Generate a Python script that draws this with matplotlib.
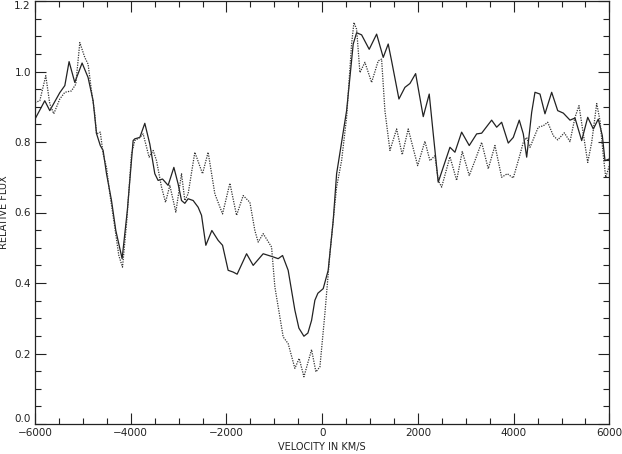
import matplotlib
matplotlib.use("Agg")
import matplotlib.pyplot as plt
from matplotlib.ticker import MultipleLocator, FormatStrFormatter

# Solid spectrum
solid_v = [-6000, -5796, -5691, -5482, -5377, -5288, -5169, -5016, -4891, -4786,
           -4715, -4636, -4577, -4506, -4402, -4312, -4180, -4071, -3950, -3915,
           -3810, -3706, -3601, -3497, -3428, -3336, -3219, -3099, -3010, -2939,
           -2870, -2801, -2696, -2592, -2521, -2431, -2305, -2174, -2082, -1965,
           -1860, -1777, -1580, -1442, -1233, -1024, -920, -828, -711, -571,
           -487, -382, -299, -222, -153, -90, 21, 125, 230, 301,
           510, 648, 719, 823, 982, 1137, 1275, 1379, 1450, 1603,
           1728, 1833, 1952, 2111, 2236, 2320, 2424, 2669, 2773, 2913,
           3072, 3227, 3331, 3540, 3645, 3749, 3887, 3992, 4117, 4201,
           4272, 4376, 4445, 4550, 4654, 4794, 4920, 5037, 5177, 5281,
           5421, 5547, 5664, 5768, 5852, 5908, 6000]
solid_f = [0.865, 0.917, 0.889, 0.940, 0.960, 1.028, 0.969, 1.024, 0.983, 0.917,
           0.824, 0.790, 0.776, 0.710, 0.634, 0.549, 0.469, 0.606, 0.804, 0.809,
           0.813, 0.853, 0.794, 0.710, 0.691, 0.695, 0.677, 0.728, 0.681, 0.634,
           0.626, 0.639, 0.634, 0.615, 0.592, 0.507, 0.549, 0.521, 0.507, 0.436,
           0.431, 0.425, 0.483, 0.450, 0.483, 0.474, 0.469, 0.478, 0.436, 0.323,
           0.272, 0.249, 0.258, 0.294, 0.351, 0.371, 0.384, 0.436, 0.577, 0.710,
           0.889, 1.078, 1.110, 1.104, 1.063, 1.106, 1.040, 1.078, 1.030, 0.922,
           0.955, 0.966, 0.994, 0.872, 0.936, 0.823, 0.686, 0.785, 0.771, 0.828,
           0.790, 0.823, 0.825, 0.862, 0.842, 0.856, 0.797, 0.813, 0.862, 0.823,
           0.757, 0.884, 0.941, 0.936, 0.880, 0.941, 0.889, 0.882, 0.862, 0.868,
           0.804, 0.870, 0.837, 0.865, 0.818, 0.747, 0.752]

# Dotted spectrum
dot_v = [-6000, -5900, -5775, -5691, -5608, -5482, -5377, -5238, -5148, -5064,
         -4960, -4891, -4820, -4751, -4715, -4636, -4577, -4506, -4437, -4333,
         -4249, -4172, -4082, -3984, -3915, -3810, -3741, -3616, -3532, -3461,
         -3357, -3273, -3183, -3058, -2939, -2870, -2801, -2661, -2500, -2383,
         -2243, -2082, -1929, -1789, -1651, -1511, -1407, -1338, -1233, -1058,
         -989, -815, -711, -571, -481, -382, -222, -132, -48, 56,
         161, 230, 301, 405, 510, 614, 663, 719, 788, 892,
         1032, 1170, 1241, 1310, 1415, 1555, 1672, 1797, 1994, 2146,
         2251, 2355, 2424, 2495, 2669, 2809, 2926, 3072, 3191, 3331,
         3469, 3609, 3749, 3867, 3992, 4117, 4201, 4272, 4341, 4514,
         4619, 4711, 4828, 4920, 5058, 5177, 5281, 5365, 5455, 5547,
         5630, 5735, 5804, 5873, 5923, 6000]
dot_f = [0.912, 0.917, 0.988, 0.908, 0.880, 0.922, 0.941, 0.945, 0.964, 1.082,
         1.040, 1.021, 0.945, 0.880, 0.823, 0.828, 0.766, 0.728, 0.653, 0.558,
         0.478, 0.445, 0.577, 0.766, 0.804, 0.813, 0.823, 0.757, 0.776, 0.747,
         0.672, 0.629, 0.677, 0.601, 0.710, 0.634, 0.653, 0.771, 0.710, 0.771,
         0.653, 0.596, 0.683, 0.592, 0.648, 0.629, 0.549, 0.516, 0.540, 0.502,
         0.389, 0.247, 0.228, 0.158, 0.186, 0.134, 0.211, 0.148, 0.162, 0.313,
         0.483, 0.577, 0.672, 0.747, 0.870, 1.078, 1.139, 1.120, 0.997, 1.026,
         0.969, 1.030, 1.035, 0.889, 0.776, 0.837, 0.764, 0.837, 0.733, 0.802,
         0.747, 0.761, 0.691, 0.672, 0.758, 0.691, 0.773, 0.705, 0.747, 0.799,
         0.724, 0.790, 0.700, 0.710, 0.698, 0.757, 0.799, 0.813, 0.785, 0.842,
         0.846, 0.856, 0.818, 0.806, 0.826, 0.801, 0.870, 0.903, 0.823, 0.742,
         0.799, 0.909, 0.860, 0.761, 0.700, 0.733]

x_ticks = [-6000, -4000, -2000, 0, 2000, 4000, 6000]
y_ticks = [0.0, 0.2, 0.4, 0.6, 0.8, 1.0, 1.2]

fig = plt.figure(figsize=(6.22, 4.54), dpi=100)
ax = fig.add_axes([35/622, 30/454, (609.4-35)/622, 423/454])

ax.plot(solid_v, solid_f, color="#222222", lw=0.9, ls="-")
ax.plot(dot_v, dot_f, color="#333333", lw=0.9, ls=(0, (1, 1)))

ax.set_xlim(-6000, 6000)
ax.set_ylim(0.0, 1.2)
ax.set_xticks(x_ticks)
ax.set_yticks(y_ticks)
ax.xaxis.set_minor_locator(MultipleLocator(500))
ax.yaxis.set_minor_locator(MultipleLocator(0.05))
ax.yaxis.set_major_formatter(FormatStrFormatter("%.1f"))
ax.tick_params(which="both", direction="in", top=True, right=True,
               labelsize=7.5, width=0.8, colors="#222222", pad=3)
ax.tick_params(which="major", length=8)
ax.tick_params(which="minor", length=4)
for s in ax.spines.values():
    s.set_linewidth(0.9)
    s.set_color("#222222")

# keep the extreme y labels inside the frame, as in the reference
ylabels = ax.get_yticklabels()
ylabels[0].set_verticalalignment("bottom")
ylabels[-1].set_verticalalignment("top")

ax.set_xlabel("VELOCITY IN KM/S", fontsize=7, color="#222222", labelpad=3)
ax.set_ylabel("RELATIVE FLUX", fontsize=7, color="#222222", labelpad=4)

fig.savefig("out.png", dpi=100)
